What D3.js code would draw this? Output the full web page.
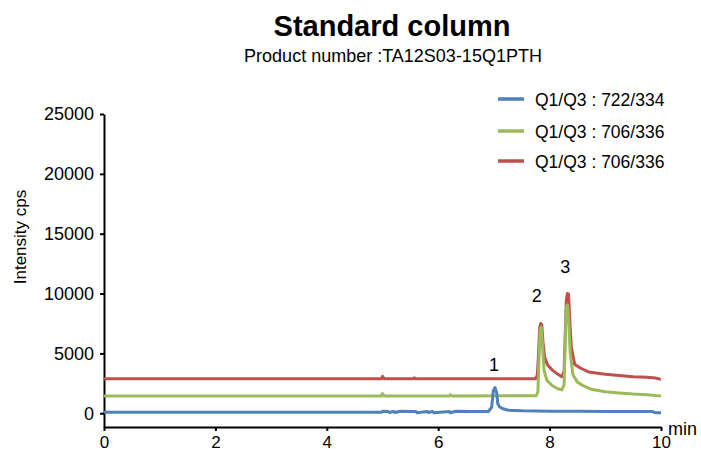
<!DOCTYPE html>
<html lang="en">
<head>
    <meta charset="UTF-8">
    <title>Standard column</title>
    <style>
        body { margin: 0; background: #fff; }
        svg text { font-family: "Liberation Sans", Arial, sans-serif; fill: #000; }
    </style>
</head>
<body>
    <div id="wrapper"></div>
    <script src="https://d3js.org/d3.v7.min.js"></script>
    <script>
        // chromatogram traces (time in min, intensity in cps)
        const blueTime = [0, 4.98, 5.0, 5.1, 5.12, 5.2, 5.22, 5.3, 5.32, 5.6, 5.62, 5.8, 5.82, 5.9, 5.92, 6.2, 6.22, 6.3, 6.32, 6.6, 6.9, 6.96, 6.99, 7.02, 7.05, 7.07, 7.1, 7.15, 7.25, 7.5, 8.0, 8.5, 9.0, 9.5, 9.85, 9.88, 9.92, 10.0];
        const blueValue = [80, 80, 160, 150, 60, 150, 60, 150, 170, 150, 40, 150, 60, 150, 50, 150, 40, 150, 160, 150, 150, 500, 1900, 2150, 1700, 800, 550, 400, 260, 200, 170, 160, 150, 150, 150, 60, 40, 40];

        const greenTime = [0, 4.98, 5.0, 5.03, 6.2, 6.22, 6.25, 7.76, 7.79, 7.81, 7.83, 7.85, 7.87, 7.9, 7.95, 8.05, 8.15, 8.22, 8.26, 8.28, 8.3, 8.32, 8.34, 8.37, 8.42, 8.5, 8.6, 8.75, 9.0, 9.25, 9.5, 9.75, 10.0];
        const greenValue = [1450, 1450, 1650, 1450, 1450, 1550, 1450, 1460, 1800, 4500, 7000, 7200, 5800, 3600, 2750, 2300, 2050, 1950, 2400, 6000, 8900, 9050, 8000, 5000, 3200, 2600, 2300, 2000, 1800, 1700, 1600, 1550, 1440];

        const redTime = [0, 4.98, 5.0, 5.03, 5.55, 5.57, 5.6, 7.75, 7.78, 7.8, 7.82, 7.84, 7.86, 7.88, 7.91, 7.96, 8.05, 8.15, 8.22, 8.26, 8.28, 8.3, 8.32, 8.34, 8.36, 8.39, 8.45, 8.55, 8.7, 9.0, 9.25, 9.5, 9.75, 9.9, 10.0];
        const redValue = [2880, 2880, 3080, 2880, 2880, 2960, 2880, 2890, 3200, 4800, 7100, 7500, 7400, 6000, 4700, 4050, 3600, 3250, 3050, 3500, 6500, 9400, 10000, 9950, 8000, 5500, 4100, 3780, 3450, 3250, 3150, 3050, 3000, 2950, 2830];

        const legendLabels = ['Q1/Q3 : 722/334', 'Q1/Q3 : 706/336', 'Q1/Q3 : 706/336'];
        const seriesColors = ['#4f81bd', '#9bbb59', '#c0504d'];

        const xTicks = [0, 2, 4, 6, 8, 10];
        const yTicks = [0, 5000, 10000, 15000, 20000, 25000];

        // peak numbers, placed in data units
        const peakLabels = ['1', '2', '3'];
        const peakLabelTime = [7.0, 7.77, 8.28];
        const peakLabelValue = [3500, 9300, 11700];

        const width = 701;
        const height = 452;
        const margin = { top: 114, right: 40, bottom: 25, left: 104 };

        const svg = d3.select('#wrapper').append('svg')
            .attr('width', width)
            .attr('height', height);

        const x = d3.scaleLinear().domain([0, 10]).range([margin.left, 661]);
        const y = d3.scaleLinear().domain([-1150, 25000]).range([height - margin.bottom, margin.top]);

        // title
        svg.append('text')
            .attr('x', 392).attr('y', 36)
            .attr('text-anchor', 'middle')
            .attr('font-size', '29px')
            .attr('font-weight', 'bold')
            .text('Standard column');
        svg.append('text')
            .attr('x', 393).attr('y', 62)
            .attr('text-anchor', 'middle')
            .attr('font-size', '18px')
            .text('Product number :TA12S03-15Q1PTH');

        // axes
        const xAxis = svg.append('g')
            .attr('transform', `translate(0,${height - margin.bottom})`)
            .call(d3.axisBottom(x).tickValues(xTicks).tickSize(4).tickPadding(5).tickSizeOuter(0));
        const yAxis = svg.append('g')
            .attr('transform', `translate(${margin.left},0)`)
            .call(d3.axisLeft(y).tickValues(yTicks).tickFormat(d3.format('d')).tickSize(4).tickPadding(6).tickSizeOuter(0));

        [xAxis, yAxis].forEach(function (g) {
            g.selectAll('path, line').attr('stroke', '#000').attr('stroke-width', 2);
            g.selectAll('text').attr('font-size', '18px').attr('font-family', '"Liberation Sans", Arial, sans-serif');
        });
        xAxis.selectAll('text').attr('font-size', '17px');

        svg.append('text')
            .attr('x', 668).attr('y', 435)
            .attr('font-size', '18px')
            .text('min');

        svg.append('text')
            .attr('transform', 'translate(26,237) rotate(-90)')
            .attr('text-anchor', 'middle')
            .attr('font-size', '17px')
            .text('Intensity cps');

        // traces: red first, then green, blue on top
        const series = [
            { time: blueTime, value: blueValue, color: seriesColors[0] },
            { time: greenTime, value: greenValue, color: seriesColors[1] },
            { time: redTime, value: redValue, color: seriesColors[2] }
        ];

        const line = d3.line()
            .x(function (d) { return x(d[0]); })
            .y(function (d) { return y(d[1]); });

        svg.selectAll('path.trace')
            .data(series.slice().reverse())
            .enter()
            .append('path')
            .attr('class', 'trace')
            .attr('fill', 'none')
            .attr('stroke', function (d) { return d.color; })
            .attr('stroke-width', 3)
            .attr('stroke-linejoin', 'round')
            .attr('d', function (d) {
                return line(d.time.map(function (t, i) { return [t, d.value[i]]; }));
            });

        // peak numbers
        svg.selectAll('text.peak')
            .data(peakLabels)
            .enter()
            .append('text')
            .attr('class', 'peak')
            .attr('text-anchor', 'middle')
            .attr('font-size', '18px')
            .attr('x', function (d, i) { return x(peakLabelTime[i]); })
            .attr('y', function (d, i) { return y(peakLabelValue[i]); })
            .text(function (d) { return d; });

        // legend
        const legendY = [99, 131, 161];
        const legend = svg.selectAll('g.legend')
            .data(legendLabels)
            .enter()
            .append('g')
            .attr('class', 'legend')
            .attr('transform', function (d, i) { return `translate(498,${legendY[i]})`; });
        legend.append('line')
            .attr('x1', 0).attr('x2', 26)
            .attr('stroke', function (d, i) { return seriesColors[i]; })
            .attr('stroke-width', 3.5);
        legend.append('text')
            .attr('x', 37).attr('y', 7)
            .attr('font-size', '17.5px')
            .text(function (d) { return d; });
    </script>
</body>
</html>
